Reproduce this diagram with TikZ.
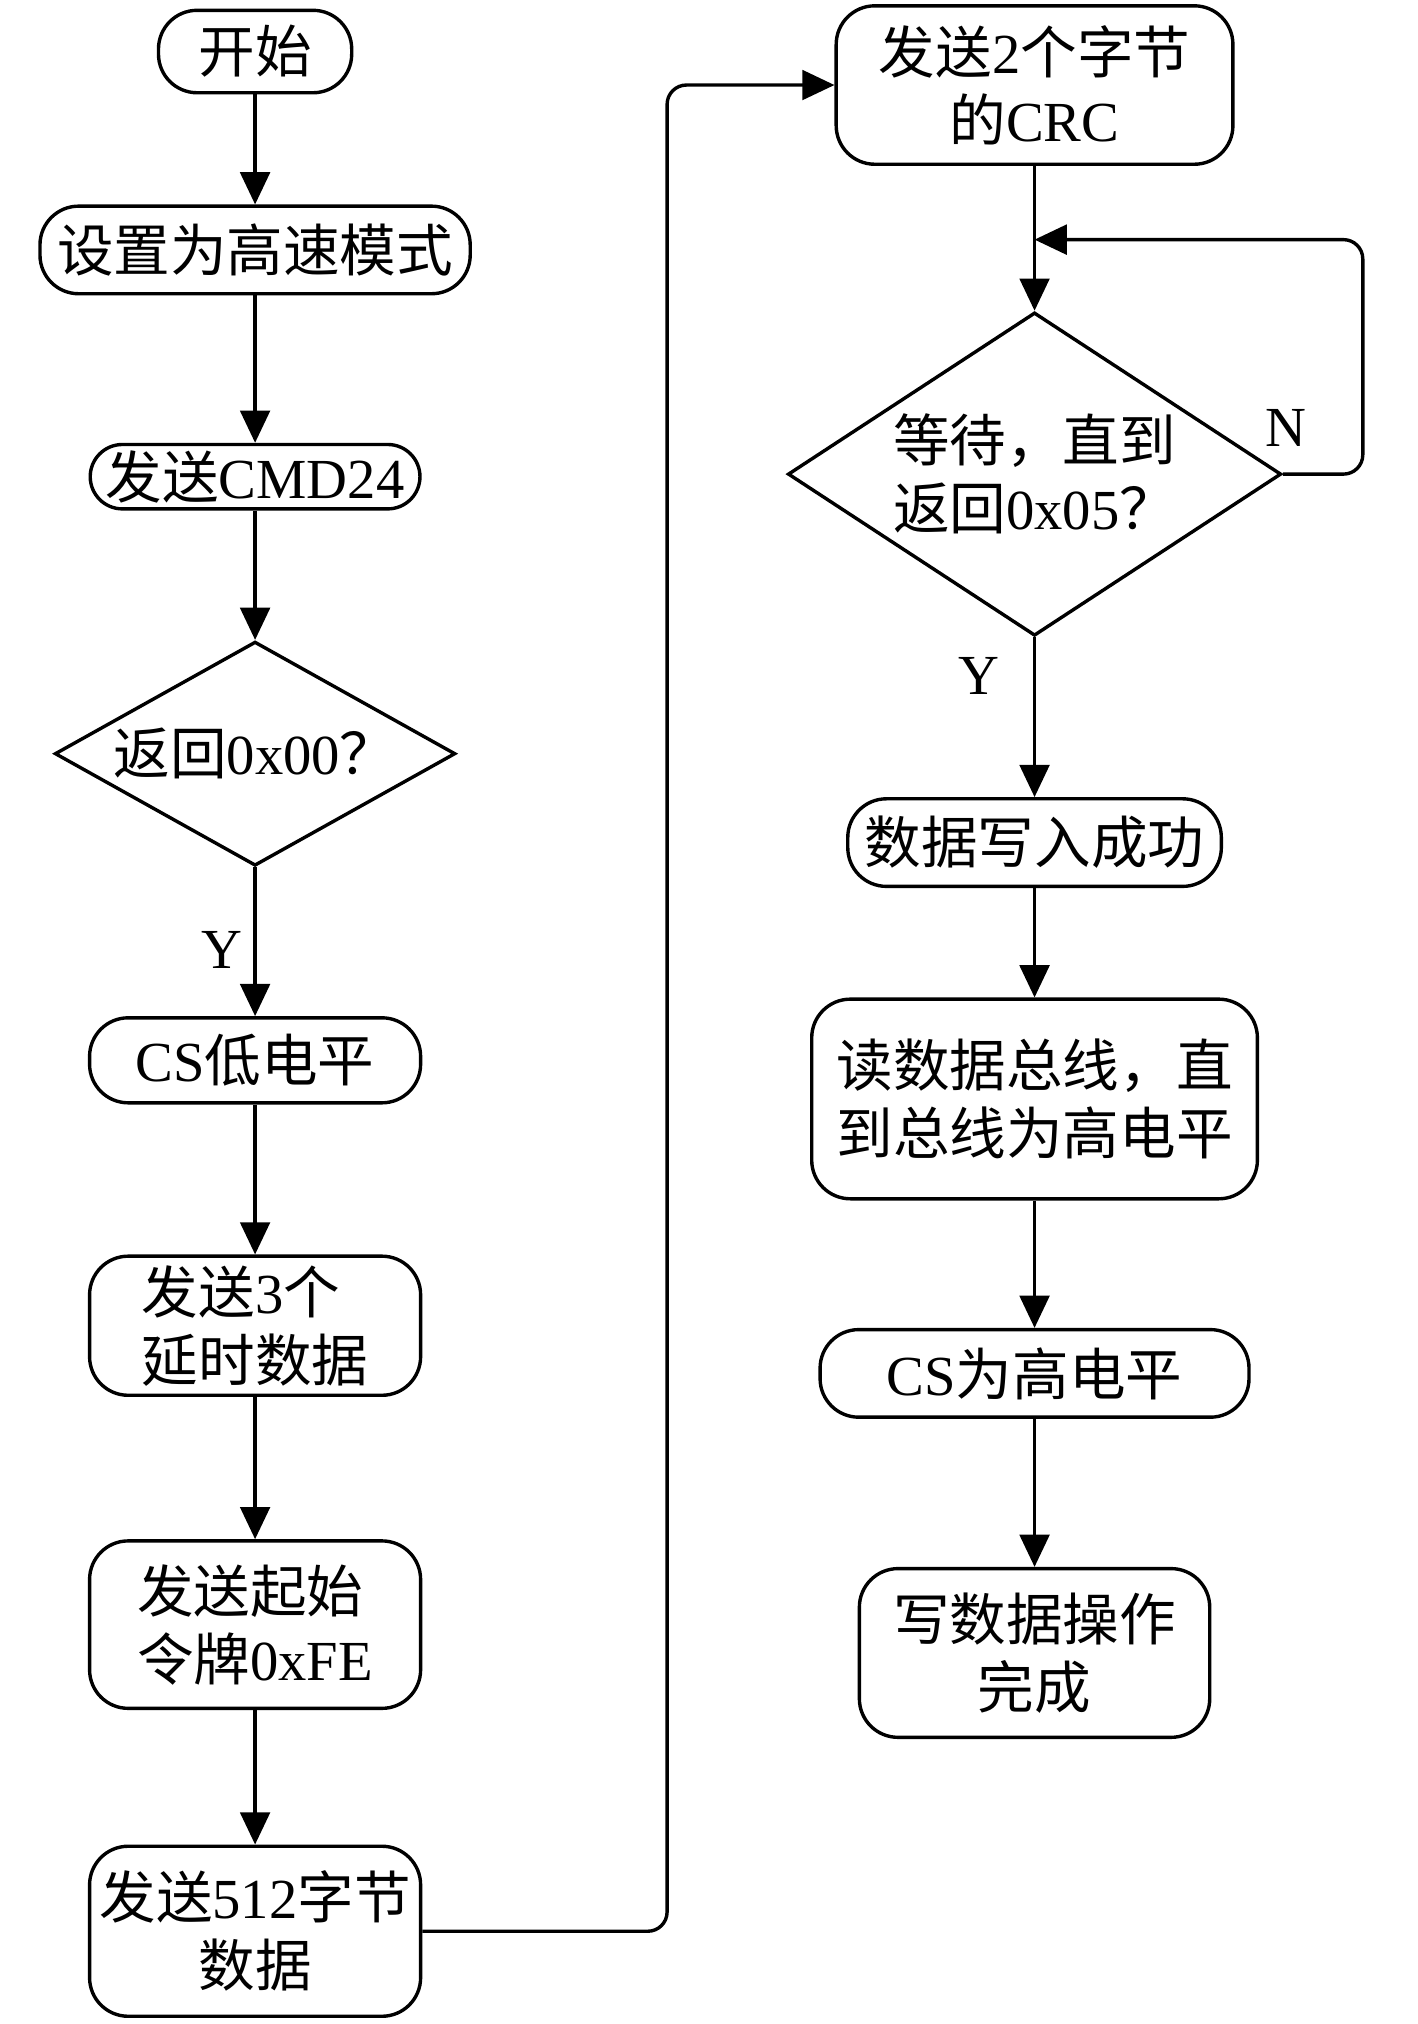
\documentclass[tikz,border=0pt]{standalone}
\usepackage{fontspec}
\setmainfont{Liberation Serif}
\newfontfamily\cjk{Noto Sans CJK SC}
\newcommand{\zhtxt}[1]{{\cjk #1}}
\usetikzlibrary{arrows.meta,shapes.geometric}
\begin{document}
\begin{tikzpicture}[x=0.02cm,y=-0.02cm,
  every node/.style={font=\fontsize{25pt}{30pt}\selectfont},
  box/.style={draw, line width=1.5pt, rounded corners=0.6cm, inner sep=0pt, align=center},
  dia/.style={draw, line width=1.5pt, diamond, inner sep=0pt, align=center},
  arr/.style={line width=1.5pt, -{Triangle[length=0.5cm,width=0.46cm]}},
  lbl/.style={inner sep=0pt}]
\useasboundingbox (0,0) rectangle (1100,1571);
% left column
\node[box, minimum width=3cm, minimum height=1.28cm] (n1) at (198,40) {\zhtxt{开始}};
\node[box, minimum width=6.68cm, minimum height=1.36cm] (n2) at (198,194) {\zhtxt{设置为高速模式}};
\node[box, rounded corners=0.5cm, minimum width=5.12cm, minimum height=1.0cm] (n3) at (198,370) {\zhtxt{发送}CMD24};
\node[dia, minimum width=6.22cm, minimum height=3.48cm, aspect=1.79] (d1) at (198,585) {\zhtxt{返回}0x00\zhtxt{？}};
\node[box, minimum width=5.14cm, minimum height=1.32cm] (n5) at (198,823) {CS\zhtxt{低电平}};
\node[box, align=left, minimum width=5.14cm, minimum height=2.16cm] (n6) at (198,1029) {\zhtxt{发送}3\zhtxt{个}\\\zhtxt{延时数据}};
\node[box, align=left, minimum width=5.14cm, minimum height=2.6cm] (n7) at (198,1261) {\zhtxt{发送起始}\\\zhtxt{令牌}0xFE};
\node[box, minimum width=5.14cm, minimum height=2.64cm] (n8) at (198,1499) {\zhtxt{发送}512\zhtxt{字节}\\\zhtxt{数据}};
% right column
\node[box, minimum width=6.16cm, minimum height=2.46cm] (n9) at (803,66) {\zhtxt{发送}2\zhtxt{个字节}\\\zhtxt{的}CRC};
\node[dia, minimum width=7.66cm, minimum height=5.02cm, aspect=1.53] (d2) at (803,368) {\zhtxt{等待，直到}\\\zhtxt{返回}0x05\zhtxt{？}};
\node[box, minimum width=5.8cm, minimum height=1.36cm] (n11) at (803,654) {\zhtxt{数据写入成功}};
\node[box, minimum width=6.92cm, minimum height=3.1cm] (n12) at (803,853) {\zhtxt{读数据总线，直}\\\zhtxt{到总线为高电平}};
\node[box, minimum width=6.66cm, minimum height=1.36cm] (n13) at (803,1066) {CS\zhtxt{为高电平}};
\node[box, minimum width=5.44cm, minimum height=2.62cm] (n14) at (803,1283) {\zhtxt{写数据操作}\\\zhtxt{完成}};
% labels
\node[lbl] (y1) at (172,737) {Y};
\node[lbl] (y2) at (760,525) {Y};
\node[lbl] (nl) at (998,332) {N};
\coordinate (join) at (803,186);
% connectors
\draw[arr] (n1) -- (n2);
\draw[arr] (n2) -- (n3);
\draw[arr] (n3) -- (d1);
\draw[arr] (d1) -- (n5);
\draw[arr] (n5) -- (n6);
\draw[arr] (n6) -- (n7);
\draw[arr] (n7) -- (n8);
\draw[arr, rounded corners=0.3cm] (n8.east) -- ++(190,0) |- (n9.west);
\draw[arr] (n9) -- (d2);
\draw[arr, rounded corners=0.3cm] (d2.east) -- ++(62,0) |- (join);
\draw[arr] (d2) -- (n11);
\draw[arr] (n11) -- (n12);
\draw[arr] (n12) -- (n13);
\draw[arr] (n13) -- (n14);
\end{tikzpicture}
\end{document}
